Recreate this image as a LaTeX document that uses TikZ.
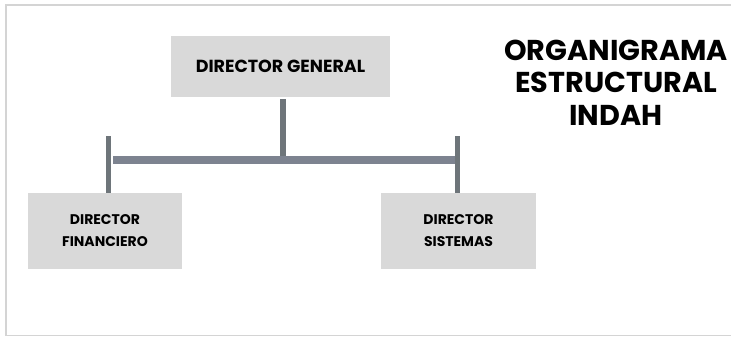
\documentclass[tikz,border=0pt]{standalone}
\usepackage{fontspec}
\setmainfont{Poppins}
\newfontfamily\titlefont{Poppins}[UprightFont=* Bold]
\definecolor{boxgray}{HTML}{D9D9D9}
\definecolor{framegray}{HTML}{D4D4D4}
\definecolor{bargray}{HTML}{7D8390}
\definecolor{stemgray}{HTML}{6E757A}
\begin{document}
\begin{tikzpicture}[x=1pt,y=-1pt,
  orgbox/.style={fill=boxgray, draw=none, inner sep=0pt, align=center,
    font=\titlefont\fontsize{14}{22}\selectfont},
  stem/.style={draw=stemgray, line width=6pt},
  bar/.style={draw=bargray, line width=8pt}]
\useasboundingbox (0,0) rectangle (731,337);
\draw[framegray, line width=1.5pt] (731,5) -- (6,5) -- (6,335.5) -- (731,335.5);
\node[orgbox, minimum width=219pt, minimum height=61pt, font=\titlefont\fontsize{17.5}{20}\selectfont] (gen) at (280.5,66.5) {DIRECTOR GENERAL};
\node[orgbox, minimum width=154pt, minimum height=76pt] (fin) at (105,231) {DIRECTOR\\FINANCIERO};
\node[orgbox, minimum width=155pt, minimum height=76pt] (sis) at (458.5,231) {DIRECTOR\\SISTEMAS};
\node[font=\titlefont\fontsize{28.7}{32.5}\selectfont, align=center, inner sep=0pt] (title) at (616,82.5) {ORGANIGRAMA\\ESTRUCTURAL\\INDAH};
\coordinate (jl) at (113,159.5);
\coordinate (jr) at (455,159.5);
\coordinate (jm) at (283,158);
\coordinate (lt) at (108.5,136);
\coordinate (rt) at (457,136);
\draw[stem] ([yshift=-2pt]gen.south -| jm) -- (jm);
\draw[bar] (jl) -- (jr);
\draw[stem, line width=5pt] (lt) -- (lt |- fin.north);
\draw[stem, line width=5pt] (rt) -- (rt |- sis.north);
\end{tikzpicture}
\end{document}
